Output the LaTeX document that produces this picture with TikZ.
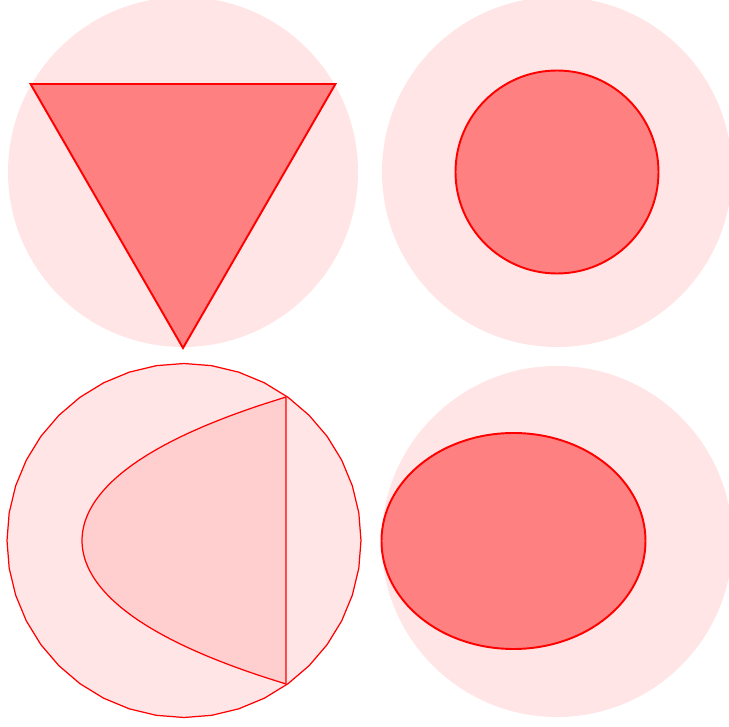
\documentclass[tikz,border=0pt]{standalone}
\usetikzlibrary{calc}
\begin{document}
\begin{tikzpicture}[x=0.1mm,y=-0.1mm,
  disc/.style={fill=red,fill opacity=0.1},
  solid shape/.style={draw=red,fill=red!50,line width=0.55pt},
  thin shape/.style={draw=red,line width=0.35pt}]
\useasboundingbox (0,0) rectangle (729,727);
\clip (0,0) rectangle (729,727);

\coordinate (tl) at (183,172);
\coordinate (tr) at (557,172);
\coordinate (bl) at (184,540.5);
\coordinate (br) at (557,541.5);

% top left: triangle in the disc
\fill[disc] (tl) circle[radius=175];
\draw[solid shape] ($(tl)+(90:176)$) -- ($(tl)+(-30:176)$) -- ($(tl)+(210:176)$) -- cycle;

% top right: circle in the disc
\fill[disc] (tr) circle[radius=175];
\draw[solid shape] (tr) circle[radius=101.5];

% bottom left: polygon disc and cut region
\filldraw[disc,thin shape,draw opacity=1] plot[domain=0:360,samples=41] ({184+177*cos(\x)},{540.5+177*sin(\x)}) -- cycle;
\filldraw[disc,thin shape,draw opacity=1] plot[smooth,domain=-1.435:1.435,samples=31]
  ({82+83.8*\x*\x+7.42*\x*\x*\x*\x},{540.5+100*\x}) -- cycle;

% bottom right: ellipse in the disc
\fill[disc] (br) circle[radius=175.5];
\draw[solid shape] (513.5,541) ellipse[x radius=132,y radius=108];
\end{tikzpicture}
\end{document}
